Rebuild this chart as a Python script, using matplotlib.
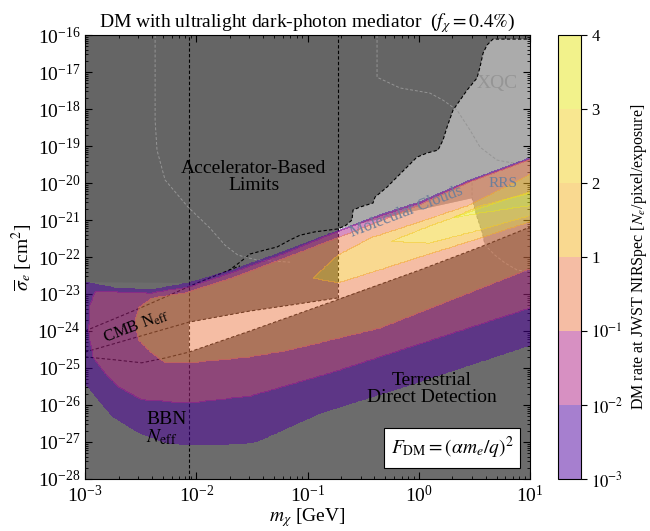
import numpy as np
import matplotlib
matplotlib.use("Agg")
import matplotlib.pyplot as plt
from matplotlib.path import Path
from matplotlib.ticker import LogLocator, NullFormatter

plt.rcParams["font.family"] = ["Liberation Serif", "DejaVu Serif"]
plt.rcParams["mathtext.fontset"] = "stix"

# JWST rate contour regions, log10(m_chi / GeV) and log10(sigma_e / cm^2)
# region where rate >= 1e-3
r0_lm = [-3.05, -3.0, -2.73, -2.40, -2.065, -1.67, -1.247, -0.735, -0.348, 0.011, 0.461, 1.045,
         1.045, 1.0, -0.169, -0.888, -1.427, -1.517, -1.99, -2.263, -2.505, -2.748, -3.0, -3.05]
r0_ls = [-22.68, -22.68, -22.84, -22.89, -22.70, -22.35, -21.89, -21.30, -20.86, -20.51, -19.92, -19.27,
         -24.27, -24.38, -25.54, -26.22, -26.95, -27.03, -27.08, -27.03, -26.76, -26.32, -25.41, -25.32]
# rate >= 1e-2
r1_lm = [-2.91, -2.70, -2.40, -2.065, -1.67, -1.247, -0.735, -0.348, 0.011, 0.461, 1.045,
         1.045, 1.0, -0.798, -1.517, -2.065, -2.49, -2.70, -2.82, -2.93, -2.97, -2.955]
r1_ls = [-22.95, -22.95, -22.97, -22.81, -22.41, -21.95, -21.32, -20.89, -20.54, -19.95, -19.30,
         -23.32, -23.38, -25.14, -25.76, -25.95, -25.86, -25.51, -25.14, -24.70, -23.97, -23.30]
# rate >= 0.1
r2_lm = [-2.52, -2.40, -2.10, -1.697, -1.247, -0.735, -0.169, 0.011, 0.461, 1.045,
         1.045, 0.973, -0.348, -1.157, -1.517, -2.065, -2.28, -2.40, -2.52, -2.55]
r2_ls = [-23.38, -23.11, -22.97, -22.59, -22.08, -21.49, -20.81, -20.59, -19.97, -19.32,
         -22.30, -22.35, -23.92, -24.51, -24.70, -24.86, -24.86, -24.59, -24.24, -23.78]
# rate >= 1
r3_lm = [-0.95, -0.726, -0.438, 0.011, 0.461, 1.045, 1.045, 0.551, 0.011, -0.438, -0.726]
r3_ls = [-22.57, -21.95, -21.49, -21.05, -20.59, -19.70, -21.0, -21.49, -22.0, -22.43, -22.70]
# rate >= 2
r4_lm = [-0.258, 0.101, 0.551, 1.045, 1.045, 0.551, 0.101]
r4_ls = [-21.59, -21.16, -20.68, -20.19, -20.84, -21.27, -21.62]
# rate >= 3
r5_lm = [0.299, 0.551, 1.045, 1.045, 0.551]
r5_ls = [-20.95, -20.62, -20.24, -20.59, -20.81]

levels = ["$10^{-3}$", "$10^{-2}$", "$10^{-1}$", "1", "2", "3", "4"]
band_cols = ["#4f01a1", "#b12387", "#ed7d4b", "#f5b523", "#f3d123", "#e7e719"]

# constraint boundaries
accel_lm = [-1.715, -1.607, -1.517, -1.382, -1.274, -1.157, -1.067, -0.933, -0.726, -0.654, -0.60, -0.591,
            -0.528, -0.411, -0.393, -0.285, -0.196, -0.106, -0.016, 0.074, 0.173, 0.218, 0.254, 0.308,
            0.371, 0.434, 0.524, 0.551, 0.578, 0.614, 0.667, 1.0]
accel_ls = [-22.38, -22.14, -21.92, -21.81, -21.73, -21.54, -21.41, -21.32, -21.24, -21.14, -21.0, -20.73,
            -20.65, -20.54, -20.38, -20.11, -19.84, -19.57, -19.30, -19.19, -19.11, -18.84, -18.49, -18.03,
            -17.76, -17.49, -17.16, -16.86, -16.49, -16.27, -16.11, -16.11]
upper_lm = [-3.0, -2.505, -2.065, -1.517, -1.20, -0.735]
upper_ls = [-24.57, -24.14, -23.76, -23.46, -23.32, -23.11]
dd_lm = [-3.0, -2.73, -2.49, -2.28, -2.065, -1.517, -0.735, 0.011, 0.596, 1.0]
dd_ls = [-24.70, -24.78, -24.86, -24.73, -24.57, -24.0, -23.16, -22.35, -21.68, -21.19]
bbn_m = 8.6e-3
vline_m, vline_top, vline_bot = 0.188, -16.0, -23.12
mol_lm = [-0.726, -0.124, 0.479]
mol_ls = [-21.24, -20.81, -20.41]
rrs_lm = [0.479, 0.524, 0.569, 0.596]
rrs_ls = [-20.41, -20.92, -21.32, -21.68]
cmb_lm = [-3.0, -2.505, -1.99, -1.607]
cmb_ls = [-24.0, -23.38, -22.70, -22.24]
faint1_lm = [-2.37, -2.37, -2.353, -2.28, -2.074, -1.876, -1.742, -1.625, -1.454, -1.157]
faint1_ls = [-16.0, -18.30, -19.11, -19.92, -20.65, -21.22, -21.68, -21.95, -22.08, -22.14]
xqc_lm = [-0.375, -0.375, -0.169, 0.101, 0.218, 0.344, 0.461, 0.551, 0.703, 0.847, 1.0]
xqc_ls = [-16.0, -17.14, -17.43, -17.57, -17.76, -18.03, -18.57, -19.03, -19.38, -19.46, -19.38]
rrsd_lm = [0.479, 0.479, 0.524, 0.569, 0.596, 0.685, 0.775, 0.883, 1.0]
rrsd_ls = [-19.86, -20.41, -20.92, -21.32, -21.68, -21.95, -22.16, -22.35, -22.41]


def P(lx, ly):
    return 10 ** np.asarray(lx, float), 10 ** np.asarray(ly, float)


fig = plt.figure(figsize=(6.5, 5.31), dpi=100)
ax = fig.add_axes([0.1308, 0.098, 0.6846, 0.836])
cax = fig.add_axes([0.8585, 0.098, 0.0354, 0.836])
ax.set_xscale("log")
ax.set_yscale("log")
ax.set_xlim(1e-3, 1e1)
ax.set_ylim(1e-28, 1e-16)
ax.set_facecolor("#6c6c6c")

# gray underlay: accelerator region, XQC / molecular cloud region, open windows
acc_x = accel_lm + [1.0, -3.0, -3.0, -2.065]
acc_y = accel_ls + [-16.0, -16.0, -22.68, -22.70]
ax.fill(*P(acc_x, acc_y), color="#656565", lw=0, zorder=0.5)
light_x = accel_lm[8:] + [1.0] + dd_lm[::-1][:2] + rrs_lm[::-1] + mol_lm[::-1]
light_y = accel_ls[8:] + [-21.19] + dd_ls[::-1][:2] + rrs_ls[::-1] + mol_ls[::-1]
ax.fill(*P(light_x, light_y), color="#ababab", lw=0, zorder=0.6)
winA_x = upper_lm[2:] + dd_lm[4:7][::-1]
winA_y = upper_ls[2:] + dd_ls[4:7][::-1]
ax.fill(*P(winA_x, winA_y), color="w", lw=0, zorder=0.7)
winB_x = mol_lm + rrs_lm[1:] + [0.011, -0.726]
winB_y = mol_ls + rrs_ls[1:] + [-22.35, -23.14]
ax.fill(*P(winB_x, winB_y), color="w", lw=0, zorder=0.7)

# boundary lines (under the translucent rate bands)
ds = dict(color="k", lw=0.8, ls=(0, (3, 2)), zorder=1.5)
ax.plot(*P(accel_lm, accel_ls), **ds)
ax.plot(*P(upper_lm, upper_ls), **ds)
ax.plot(*P(dd_lm, dd_ls), **ds)
ax.plot(*P(cmb_lm, cmb_ls), **ds)
ax.plot([bbn_m, bbn_m], [1e-28, 1e-16], **ds)
ax.plot([vline_m, vline_m], [10 ** vline_bot, 10 ** vline_top], **ds)
gs = dict(color="#959595", lw=0.7, ls=(0, (3, 2)), zorder=1.5)
ax.plot(*P(faint1_lm, faint1_ls), **gs)
ax.plot(*P(xqc_lm, xqc_ls), **gs)
ax.plot(*P(rrsd_lm, rrsd_ls), **gs)

# rate bands
lm = np.linspace(-3, 1, 601)
ls = np.linspace(-28, -16, 721)
LM, LS = np.meshgrid(lm, ls)
pts = np.column_stack([LM.ravel(), LS.ravel()])
field = np.zeros(LM.size)
for rx, ry in [(r0_lm, r0_ls), (r1_lm, r1_ls), (r2_lm, r2_ls),
               (r3_lm, r3_ls), (r4_lm, r4_ls), (r5_lm, r5_ls)]:
    field += Path(np.column_stack([rx, ry])).contains_points(pts)
field = field.reshape(LM.shape)
bounds = np.arange(len(levels)) + 0.5
cf = ax.contourf(10 ** LM, 10 ** LS, field, levels=bounds, colors=band_cols, alpha=0.5, zorder=2)

# labels
ax.text(0.033, 10 ** -19.84, "Accelerator-Based\nLimits", ha="center", va="center", fontsize=14,
        linespacing=1.0, zorder=4)
ax.text(1.31, 10 ** -25.57, "Terrestrial\nDirect Detection", ha="center", va="center", fontsize=14,
        linespacing=1.0, zorder=4)
ax.text(3.53e-3, 10 ** -26.65, "BBN\n$N_{\\rm eff}$", ha="left", va="center", fontsize=14,
        linespacing=1.0, zorder=4)
ax.text(2.88e-3, 10 ** -23.89, "CMB N$_{\\rm eff}$", ha="center", va="center", fontsize=12,
        rotation=21, zorder=4)
ax.text(0.78, 10 ** -20.78, "Molecular Clouds", ha="center", va="center", fontsize=12,
        rotation=21, color="#6d7f9a", zorder=4)
ax.text(5.7, 10 ** -20.0, "RRS", ha="center", va="center", fontsize=11, color="#6d7f9a", zorder=4)
ax.text(5.1, 10 ** -17.32, "XQC", ha="center", va="center", fontsize=14, color="#959595", zorder=4)
ax.text(0.825, 0.07, r"$F_{\rm DM} = (\alpha m_e/q)^2$", transform=ax.transAxes, ha="center",
        va="center", fontsize=14, zorder=5,
        bbox=dict(boxstyle="square,pad=0.35", fc="w", ec="k", lw=0.8))

ax.yaxis.set_major_locator(LogLocator(base=10, numticks=30))
ax.yaxis.set_minor_locator(LogLocator(base=10, subs=np.arange(2, 10), numticks=100))
ax.yaxis.set_minor_formatter(NullFormatter())
ax.xaxis.set_minor_locator(LogLocator(base=10, subs=np.arange(2, 10), numticks=100))
ax.xaxis.set_minor_formatter(NullFormatter())
ax.tick_params(which="both", direction="in", top=True, right=True, labelsize=14)
ax.tick_params(which="major", length=5)
ax.tick_params(which="minor", length=2.5)
ax.tick_params(axis="x", which="major", pad=4)
ax.set_xlabel(r"$m_\chi$ [GeV]", fontsize=14, labelpad=0)
ax.set_ylabel(r"$\overline{\sigma}_e$ [cm$^2$]", fontsize=14, labelpad=2)
ax.set_title(r"DM with ultralight dark-photon mediator  ($f_\chi = 0.4\%$)", fontsize=14, pad=5)

cb = fig.colorbar(cf, cax=cax)
cb.set_ticks(bounds)
cb.set_ticklabels(levels)
cb.ax.tick_params(labelsize=12, length=4)
cb.set_label(r"DM rate at JWST NIRSpec [$N_e$/pixel/exposure]", fontsize=11.5, labelpad=4)

fig.savefig("out.png", dpi=100)
